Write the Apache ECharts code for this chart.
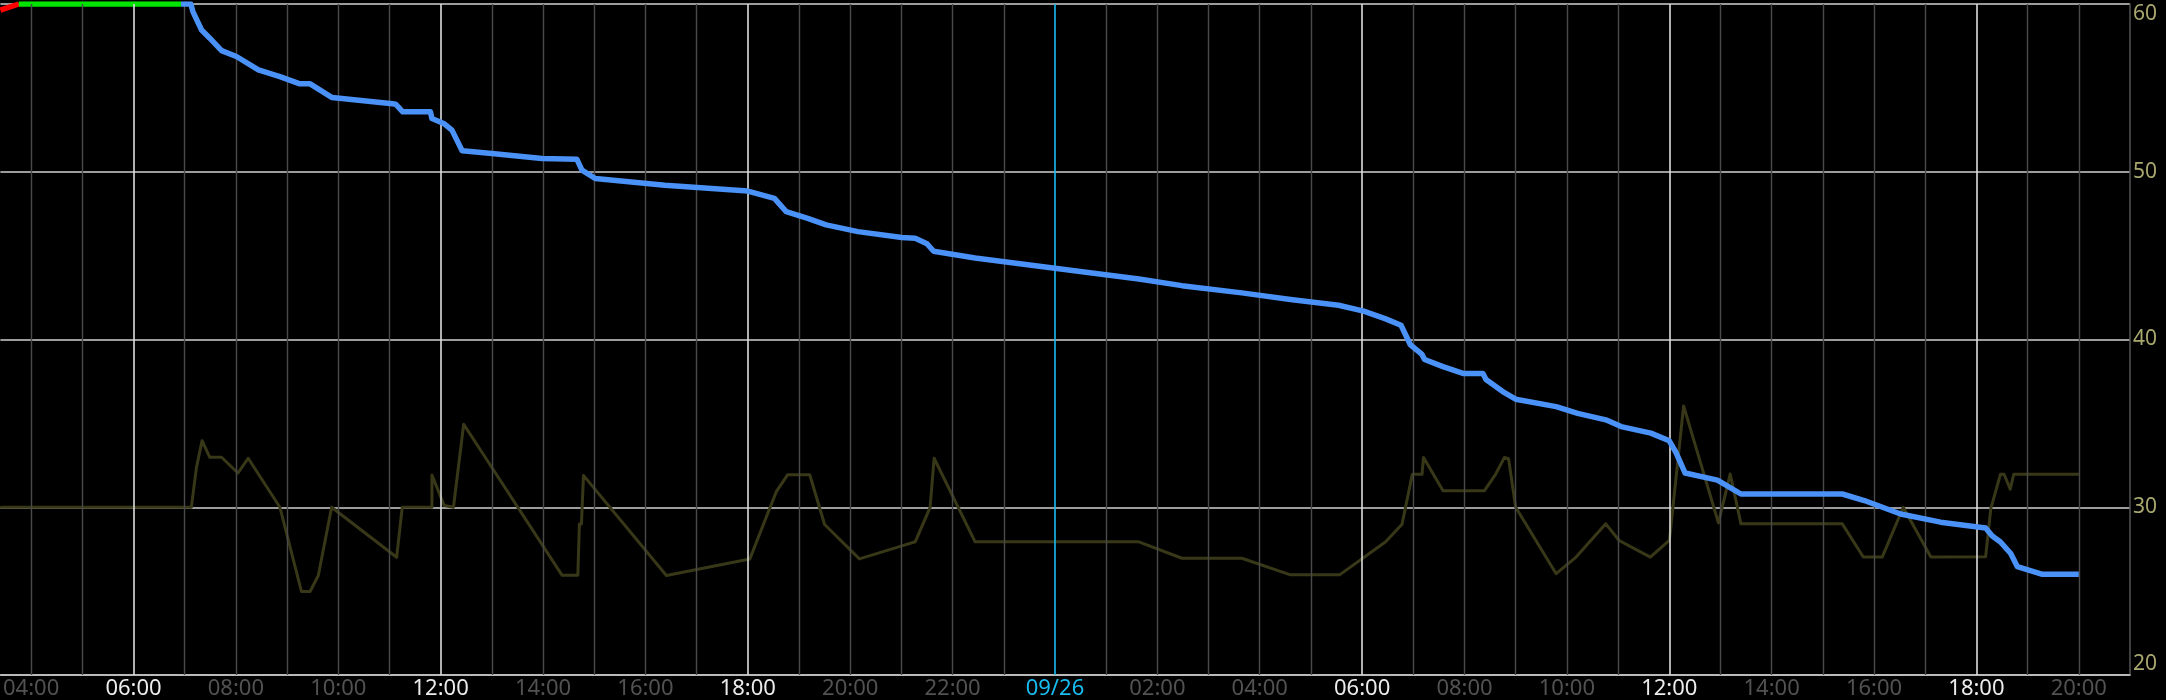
<!DOCTYPE html>
<html>
<head>
<meta charset="utf-8">
<script src="https://cdn.jsdelivr.net/npm/echarts@6/dist/echarts.min.js"></script>
<style>
html,body{margin:0;padding:0;background:#000;}
#c{width:2166px;height:700px;}
</style>
</head>
<body>
<div id="c"></div>
<script>
// time values are hours since 09/25 00:00
const xMin = 3.4, xMax = 45;
const labelHours = [4,6,8,10,12,14,16,18,20,22,24,26,28,30,32,34,36,38,40,42,44];
const gridHours = [4,5,6,7,8,9,10,11,12,13,14,15,16,17,18,19,20,21,22,23,24,25,26,27,28,29,30,31,32,33,34,35,36,37,38,39,40,41,42,43,44];
const midnightLabel = '09/26';
const yTicks = [20,30,40,50,60];

const redHours = [3.4, 3.76];
const redVals  = [59.64, 60];
const greenHours = [3.76, 6.93];
const greenVals  = [60, 60];

const blueHours = [6.93,7.12,7.16,7.33,7.49,7.72,8.01,8.44,8.86,9.25,9.45,9.88,11.06,11.12,11.26,11.80,11.83,12.06,12.22,12.42,13.0,13.98,14.66,14.76,15.02,16.38,18.0,18.52,18.75,19.17,19.53,20.15,21.01,21.27,21.50,21.63,22.44,23.62,24.72,25.64,26.48,27.65,28.60,29.54,30.03,30.46,30.76,30.94,31.17,31.22,31.58,31.97,32.36,32.42,32.78,33.0,33.79,34.21,34.76,35.06,35.64,36.0,36.13,36.31,36.94,37.40,39.38,39.81,40.52,41.30,42.18,42.31,42.47,42.67,42.80,43.29,44.0];
const blueVals  = [60,60,59.55,58.45,57.96,57.22,56.87,56.07,55.67,55.24,55.24,54.42,54.05,54.03,53.57,53.57,53.17,52.88,52.48,51.25,51.09,50.79,50.75,50.1,49.6,49.2,48.85,48.41,47.62,47.22,46.83,46.43,46.08,46.03,45.71,45.26,44.86,44.40,43.97,43.61,43.21,42.78,42.38,42.04,41.69,41.23,40.85,39.70,39.11,38.81,38.38,37.98,37.98,37.62,36.83,36.44,36.0,35.60,35.21,34.81,34.42,33.96,33.27,32.04,31.62,30.79,30.79,30.40,29.60,29.11,28.76,28.29,27.93,27.24,26.46,26.0,26.0];

const oliveHours = [3.4,7.13,7.23,7.34,7.49,7.72,8.04,8.24,8.86,9.28,9.45,9.61,9.87,11.14,11.25,11.83,11.83,12.07,12.25,12.45,14.37,14.68,14.71,14.75,14.79,16.41,18.04,18.56,18.78,19.21,19.50,20.18,21.01,21.27,21.56,21.64,22.44,25.64,26.48,27.65,28.60,29.56,30.46,30.78,30.98,31.17,31.2,31.58,32.39,32.61,32.78,32.86,33.0,33.79,34.18,34.76,35.02,35.63,36.0,36.02,36.28,36.96,37.19,37.40,39.38,39.79,40.16,40.57,41.11,42.18,42.28,42.47,42.54,42.66,42.73,44.0];
const oliveVals  = [30,30,32.38,33.97,32.98,32.98,32.04,32.92,30,24.98,24.98,25.93,30,27.02,30,30,31.92,30.1,30,34.95,25.95,25.95,29.0,29.0,31.9,25.93,26.92,30.95,31.94,31.94,28.97,26.92,27.70,27.94,29.98,32.92,27.94,27.94,26.96,26.96,25.97,25.97,27.94,28.99,31.96,31.96,32.97,30.99,30.99,31.98,32.97,32.9,30.0,26.04,27.03,29.01,28.02,27.03,28.02,28.5,36.04,29.07,31.98,29.01,29.01,27.03,27.03,30.0,27.03,27.05,29.9,31.97,31.97,31.08,31.97,31.97];

function pairs(xs, ys){ return xs.map((x,i)=>[x, ys[i]]); }
function pad(n){ return (n<10?'0':'')+n; }

const chart = echarts.init(document.getElementById('c'), null, {renderer:'canvas'});
const FONT = '"Noto Sans", "DejaVu Sans", sans-serif';

function lineSeries(name, xs, ys, color, width, z){
  return {
    name, type:'line', data: pairs(xs, ys), showSymbol:false, symbol:'none',
    z, animation:false, silent:true,
    lineStyle:{color, width, join:'round', cap:'butt'},
    emphasis:{disabled:true}
  };
}

chart.setOption({
  backgroundColor:'#000',
  animation:false,
  grid:{left:0, right:36, top:4, bottom:22.4, containLabel:false},
  xAxis:{
    type:'value', min:xMin, max:xMax,
    axisLine:{show:true, onZero:false, lineStyle:{color:'#c4c4c4', width:1.6}},
    axisTick:{show:false},
    splitLine:{show:false},
    axisLabel:{
      customValues: labelHours,
      margin:3,
      fontFamily: FONT, fontSize:22,
      formatter: function(v){
        const h = Math.round(v);
        if (h % 24 === 0) return '{c|' + midnightLabel + '}';
        const t = pad(h % 24) + ':00';
        return (h % 6 === 0 ? '{m|' : '{n|') + t + '}';
      },
      rich:{
        n:{color:'#525252', fontFamily:FONT, fontSize:22},
        m:{color:'#ececec', fontFamily:FONT, fontSize:22},
        c:{color:'#18bdf0', fontFamily:FONT, fontSize:22}
      }
    }
  },
  yAxis:{
    type:'value', position:'right', min:20, max:60, interval:10,
    axisLine:{show:true, lineStyle:{color:'#555', width:1.5}},
    axisTick:{show:false},
    splitLine:{show:true, lineStyle:{color:'#d0d0d0', width:1.6}},
    axisLabel:{
      color:'#a9a86e', fontFamily:FONT, fontSize:21, margin:3,
      verticalAlignMinLabel:'bottom', verticalAlignMaxLabel:'top'
    }
  },
  series:[
    {
      name:'grid', type:'line', data:[], z:1, silent:true, animation:false,
      markLine:{
        silent:true, symbol:['none','none'], animation:false,
        label:{show:false},
        lineStyle:{type:'solid'},
        emphasis:{disabled:true},
        data: gridHours.map(h => ({
          xAxis: h,
          lineStyle:{
            type:'solid',
            color: h % 24 === 0 ? '#18bdf0' : (h % 6 === 0 ? '#dcdcdc' : '#4a4a4a'),
            width: h % 6 === 0 ? 1.6 : 1.4
          }
        }))
      }
    },
    lineSeries('olive', oliveHours, oliveVals, '#383819', 3, 3),
    lineSeries('red', redHours, redVals, '#ff0000', 5.5, 4),
    lineSeries('green', greenHours, greenVals, '#00e400', 5.5, 4),
    lineSeries('blue', blueHours, blueVals, '#4a92f7', 5.5, 5)
  ]
});
</script>
</body>
</html>
